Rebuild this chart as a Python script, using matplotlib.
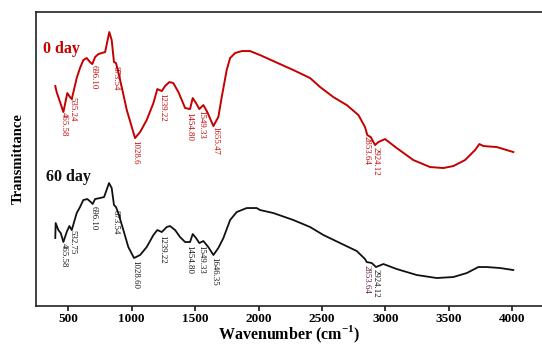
import numpy as np
import matplotlib
matplotlib.use("Agg")
import matplotlib.pyplot as plt

plt.rcParams['font.family'] = ['Liberation Serif', 'DejaVu Serif']
plt.rcParams['mathtext.fontset'] = 'custom'
plt.rcParams['mathtext.bf'] = 'Liberation Serif:bold'
plt.rcParams['mathtext.rm'] = 'Liberation Serif'

# Espectro FTIR - 0 dia (vermelho)
wn_0 = [397, 408, 461, 492, 513, 527, 566, 592, 618, 645, 671, 689, 711, 737, 763, 790,
        823, 842, 860, 876, 894, 921, 961, 1026, 1066, 1118, 1171, 1202, 1237, 1263, 1297,
        1328, 1368, 1395, 1421, 1460, 1481, 1507, 1533, 1565, 1596, 1644, 1683, 1710, 1749,
        1776, 1815, 1868, 1933, 2012, 2117, 2275, 2407, 2486, 2590, 2696, 2788, 2840, 2858,
        2885, 2919, 2945, 2998, 3090, 3221, 3353, 3458, 3537, 3629, 3708, 3742, 3774, 3879, 4010]
tr_0 = [220, 214, 194, 213, 209, 207, 228, 238, 246, 248, 244, 242, 249, 252, 253, 254,
        274, 266, 244, 243, 234, 219, 196, 168, 174, 186, 203, 217, 215, 220, 224,
        223, 214, 206, 198, 197, 208, 203, 197, 201, 194, 180, 189, 209, 236,
        248, 253, 255, 255, 251, 245, 236, 228, 219, 209, 201, 191, 179, 171,
        169, 161, 164, 167, 158, 146, 139, 138, 140, 146, 156, 162, 160, 159, 154]

# Espectro FTIR - 60 dias (preto)
wn_60 = [397, 400, 421, 440, 461, 487, 508, 527, 566, 592, 618, 650, 677, 692, 711, 750,
         782, 821, 842, 860, 876, 894, 934, 973, 1018, 1066, 1118, 1171, 1202, 1237, 1276,
         1302, 1342, 1381, 1421, 1460, 1481, 1507, 1533, 1565, 1604, 1644, 1683, 1723, 1776,
         1828, 1907, 1986, 2012, 2117, 2275, 2407, 2512, 2643, 2775, 2840, 2853, 2893, 2927,
         2985, 3090, 3248, 3406, 3537, 3643, 3734, 3800, 3905, 4010]
tr_60 = [68, 83, 76, 73, 64, 74, 80, 76, 93, 99, 106, 107, 104, 102, 107, 108,
         109, 123, 118, 101, 99, 93, 76, 59, 48, 51, 59, 71, 76, 74, 79,
         80, 76, 69, 64, 64, 72, 68, 63, 65, 59, 51, 58, 68, 86,
         94, 98, 98, 96, 93, 86, 79, 71, 63, 55, 47, 44, 43, 39,
         42, 37, 31, 28, 29, 33, 39, 39, 38, 36]

# Picos rotulados
peaks_0 = ["465.58", "535.24", "696.10", "873.54", "1028.6", "1239.22",
           "1454.80", "1549.33", "1655.47", "2853.64", "2924.12"]
peaks_60 = ["465.58", "532.75", "696.10", "873.54", "1028.60", "1239.22",
            "1454.80", "1549.33", "1646.35", "2853.64", "2924.12"]

xticks = [500, 1000, 1500, 2000, 2500, 3000, 3500, 4000]

red = "#c40000"

fig = plt.figure(figsize=(5.42, 3.45), dpi=100)
ax = fig.add_axes([0.0655, 0.113, 0.9345, 0.852])

ax.plot(wn_0, tr_0, color=red, lw=1.4)
ax.plot(wn_60, tr_60, color="#111111", lw=1.3)

def label_peaks(wn, tr, peaks, color, special=None):
    for p in peaks:
        x = float(p)
        y = np.interp(x, wn, tr)
        c = color
        if special and p == special[0]:
            c = special[1]
        ax.annotate(p, xy=(x, y), xytext=(0, -2), textcoords='offset points',
                    rotation=-90, ha='center', va='top', fontsize=6.3, color=c)

label_peaks(wn_0, tr_0, peaks_0, red)
label_peaks(wn_60, tr_60, peaks_60, "#111111", special=("2853.64", "#5a1848"))

ax.text(300, 257, "0 day", color=red, fontsize=11.5, fontweight='bold', va='center')
ax.text(324, 129, "60 day", color="#111111", fontsize=11.5, fontweight='bold', va='center')

ax.set_xlim(241, 4236)
ax.set_ylim(0, 294)
ax.set_xticks(xticks)
ax.set_yticks([])
ax.tick_params(axis='x', direction='out', length=3.5, width=1.1, pad=1.5, labelsize=9.5)
for lab in ax.get_xticklabels():
    lab.set_fontweight('bold')
ax.spines['right'].set_visible(False)
for s in ['left', 'top', 'bottom']:
    ax.spines[s].set_linewidth(1.2)
    ax.spines[s].set_color('#222222')

ax.set_xlabel(r'Wavenumber (cm$^{\mathbf{-1}}$)', fontsize=11.5, fontweight='bold', labelpad=-0.5)
ax.set_ylabel('Transmittance', fontsize=10.5, fontweight='bold', labelpad=8)

fig.savefig("out.png", dpi=100)
